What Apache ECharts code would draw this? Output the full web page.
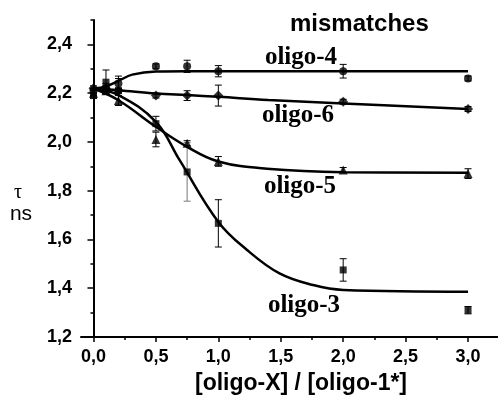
<!DOCTYPE html>
<html>
<head>
<meta charset="utf-8">
<script src="https://cdn.jsdelivr.net/npm/echarts@6/dist/echarts.min.js"></script>
<style>
  html, body { margin: 0; background: #fff; }
  #chart { width: 498px; height: 399px; }
</style>
</head>
<body>
<div id="chart"></div>
<script>
// concentration ratio [oligo-X] / [oligo-1*]
const conc = [0, 0.1, 0.2, 0.5, 0.75, 1.0, 2.0, 3.0];

// measured lifetimes (ns) and error bars
const oligo4 = [2.21, 2.22, 2.24, 2.31, 2.31, 2.29, 2.29, 2.26];
const oligo4Err = [0.01, 0.02, 0.02, 0.01, 0.025, 0.023, 0.028, 0.01];
const oligo6 = [2.22, 2.22, 2.21, 2.19, 2.19, 2.19, 2.165, 2.135];
const oligo6Err = [0.01, 0.01, 0.01, 0.01, 0.02, 0.043, 0.01, 0.01];
const oligo5 = [2.20, 2.21, 2.17, 2.01, 1.995, 1.92, 1.885, 1.87];
const oligo5Err = [0.01, 0.01, 0.02, 0.03, 0.01, 0.02, 0.01, 0.02];
const oligo3 = [2.19, 2.245, 2.21, 2.075, 1.877, 1.666, 1.475, 1.31];
const oligo3Err = [0.01, 0.05, 0.06, 0.03, 0.12, 0.097, 0.046, 0.015];

// fitted curves
const fit4 = [[0, 2.219], [0.1, 2.228], [0.2, 2.25], [0.31, 2.276], [0.5, 2.289], [0.75, 2.29], [1, 2.29], [2, 2.29], [3, 2.29]];
const fit6 = [[0, 2.219], [0.2, 2.212], [0.5, 2.199], [0.75, 2.192], [1, 2.185], [1.4, 2.172], [2, 2.158], [3, 2.135]];
const fit5 = [[0, 2.219], [0.2, 2.171], [0.5, 2.062], [0.75, 1.98], [1, 1.92], [1.39, 1.89], [2, 1.876], [3, 1.874]];
const fit3 = [[0, 2.219], [0.2, 2.192], [0.5, 2.082], [0.69, 1.925], [1, 1.672], [1.23, 1.557], [1.49, 1.461], [1.76, 1.413], [2, 1.393], [3, 1.386]];

// tick positions
const xTicks = [0, 0.5, 1.0, 1.5, 2.0, 2.5, 3.0];
const xMinor = [0.25, 0.75, 1.25, 1.75, 2.25, 2.75];
const yTicks = [1.2, 1.4, 1.6, 1.8, 2.0, 2.2, 2.4];
const yMinor = [1.3, 1.5, 1.7, 1.9, 2.1, 2.3, 2.5];

const SANS = 'Liberation Sans, Arial, sans-serif';
const SERIF = 'Liberation Serif, Times New Roman, serif';
const comma = v => v.toFixed(1).replace('.', ',');

function errBars(y, err, colors) {
  return {
    type: 'custom',
    silent: true,
    z: 1,
    data: conc.map((x, i) => [x, y[i] - err[i], y[i] + err[i], i]),
    encode: { x: 0, y: [1, 2] },
    renderItem: (params, api) => {
      const lo = api.coord([api.value(0), api.value(1)]);
      const hi = api.coord([api.value(0), api.value(2)]);
      const c = colors ? colors[api.value(3)] : '#000';
      const st = { stroke: c, lineWidth: 1 };
      return {
        type: 'group',
        children: [
          { type: 'line', shape: { x1: lo[0], y1: lo[1], x2: hi[0], y2: hi[1] }, style: st },
          { type: 'line', shape: { x1: lo[0] - 3.5, y1: lo[1], x2: lo[0] + 3.5, y2: lo[1] }, style: st },
          { type: 'line', shape: { x1: hi[0] - 3.5, y1: hi[1], x2: hi[0] + 3.5, y2: hi[1] }, style: st },
        ],
      };
    },
  };
}

function points(y, symbol, size) {
  return {
    type: 'scatter', symbol, symbolSize: size, z: 3,
    itemStyle: { color: '#000' },
    data: conc.map((x, i) => [x, y[i]]),
  };
}

function fitLine(data) {
  return {
    type: 'line', data, smooth: 0.4, showSymbol: false, z: 2,
    lineStyle: { color: '#000', width: 2.5 },
  };
}

const axisBase = { lineStyle: { color: '#000', width: 2 } };

const chart = echarts.init(document.getElementById('chart'), null, { renderer: 'canvas' });
chart.setOption({
  backgroundColor: '#fff',
  animation: false,
  grid: { left: 81, right: 0, top: 20, bottom: 62, containLabel: false },
  xAxis: [
    {
      type: 'value', min: -0.1, max: 3.24, position: 'bottom',
      axisLine: axisBase,
      splitLine: { show: false },
      axisTick: { customValues: xTicks, length: 5, lineStyle: { color: '#000', width: 1.5 } },
      axisLabel: {
        customValues: xTicks, formatter: comma, margin: 11,
        color: '#000', fontFamily: SANS, fontWeight: 'bold', fontSize: 18,
      },
    },
    {
      type: 'value', min: -0.1, max: 3.24, position: 'bottom',
      axisLine: { show: false },
      splitLine: { show: false },
      axisTick: { customValues: xMinor, length: 3, lineStyle: { color: '#000', width: 1.5 } },
      axisLabel: { show: false },
    },
  ],
  yAxis: [
    {
      type: 'value', min: 1.2, max: 2.5, position: 'left',
      axisLine: axisBase,
      splitLine: { show: false },
      axisTick: { customValues: yTicks, length: 6, lineStyle: { color: '#000', width: 1.5 } },
      axisLabel: {
        customValues: yTicks, formatter: comma, margin: 9,
        color: '#000', fontFamily: SANS, fontWeight: 'bold', fontSize: 18,
      },
    },
    {
      type: 'value', min: 1.2, max: 2.5, position: 'left',
      axisLine: { show: false },
      splitLine: { show: false },
      axisTick: { customValues: yMinor, length: 3, lineStyle: { color: '#000', width: 1.5 } },
      axisLabel: { show: false },
    },
  ],
  series: [
    errBars(oligo4, oligo4Err),
    errBars(oligo6, oligo6Err),
    errBars(oligo5, oligo5Err),
    errBars(oligo3, oligo3Err, ['#000', '#000', '#000', '#000', '#777', '#000', '#000', '#000']),
    fitLine(fit4),
    fitLine(fit6),
    fitLine(fit5),
    fitLine(fit3),
    points(oligo4, 'circle', 8),
    points(oligo6, 'diamond', 10),
    points(oligo5, 'triangle', 9),
    points(oligo3, 'rect', 7),
  ],
  graphic: [
    { type: 'text', left: 290, top: 12, style: { text: 'mismatches', font: 'bold 24px ' + SANS, fill: '#000' } },
    { type: 'text', x: 301, y: 384, style: { text: '[oligo-X] / [oligo-1*]', font: 'bold 23px ' + SANS, fill: '#000', align: 'center', verticalAlign: 'middle' } },
    { type: 'text', x: 18, y: 193, style: { text: 'τ', font: '20px ' + SERIF, fill: '#000', align: 'center', verticalAlign: 'middle' } },
    { type: 'text', x: 21, y: 214, style: { text: 'ns', font: '21px ' + SANS, fill: '#000', align: 'center', verticalAlign: 'middle' } },
    { type: 'text', x: 301, y: 58, style: { text: 'oligo-4', font: 'bold 25px ' + SERIF, fill: '#000', align: 'center', verticalAlign: 'middle' } },
    { type: 'text', x: 298, y: 116, style: { text: 'oligo-6', font: 'bold 25px ' + SERIF, fill: '#000', align: 'center', verticalAlign: 'middle' } },
    { type: 'text', x: 300, y: 187, style: { text: 'oligo-5', font: 'bold 25px ' + SERIF, fill: '#000', align: 'center', verticalAlign: 'middle' } },
    { type: 'text', x: 304, y: 306, style: { text: 'oligo-3', font: 'bold 25px ' + SERIF, fill: '#000', align: 'center', verticalAlign: 'middle' } },
  ],
});
</script>
</body>
</html>
